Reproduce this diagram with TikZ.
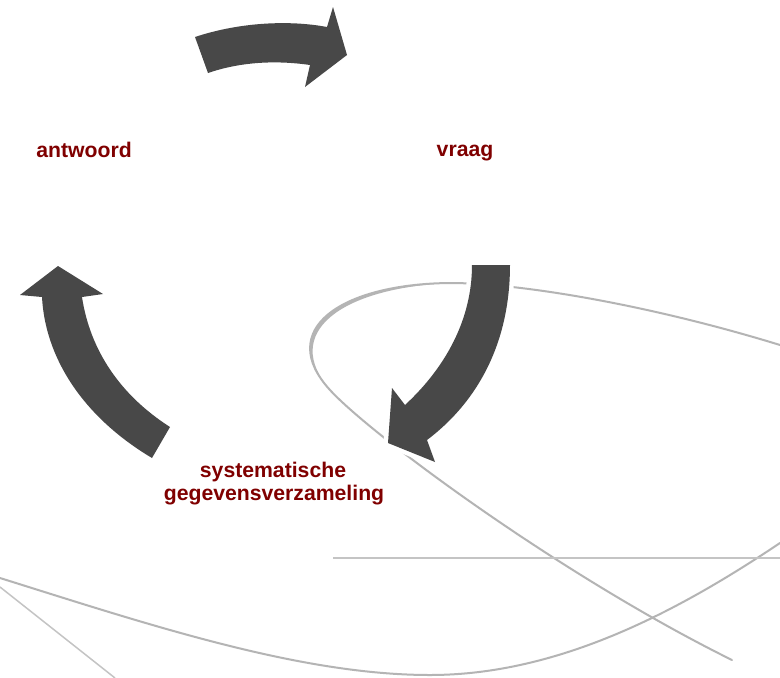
\documentclass[tikz,border=0pt]{standalone}
\usepackage{fontspec}
\setmainfont{Liberation Sans}
\definecolor{lbl}{RGB}{128,0,0}
\definecolor{arr}{RGB}{72,72,72}
\definecolor{swirl}{RGB}{180,180,180}
\definecolor{thin}{RGB}{196,196,196}
\begin{document}
\begin{tikzpicture}[x=1pt,y=-1pt,
  lbltext/.style={text=lbl,font=\fontsize{21.2}{23}\selectfont\bfseries,inner sep=0pt,anchor=base,align=center},
  blockarrow/.style={fill=arr,preaction={draw=white,line width=9pt,line join=round}},
  swirlline/.style={draw=swirl,line width=2pt,line cap=round},
  thinline/.style={draw=thin,line width=1.5pt}]
\useasboundingbox (0,0) rectangle (780,678);
\fill[white] (0,0) rectangle (780,678);
% background swirls
\draw[swirlline] (780,345) .. controls (650,305) and (520,283) .. (450,283)
  .. controls (340,284) and (275,330) .. (330,390)
  .. controls (370,434) and (560,575) .. (732,660);
\fill[swirl] (450,283) .. controls (340,284) and (275,330) .. (330,390)
  .. controls (281,333) and (340,288) .. (450,283) -- cycle;
\draw[swirlline] (0,578) .. controls (150,625) and (300,675) .. (430,675)
  .. controls (560,675) and (680,610) .. (780,543);
\draw[thinline] (0,587) -- (115,678);
\draw[thinline] (333,558) -- (780,558);
% block arrows
\path[blockarrow] (195,37) .. controls (240,22) and (290,20) .. (327,27) -- (333,7) -- (347,55) -- (305,87) -- (310,65) .. controls (275,60) and (240,62) .. (208,73) -- cycle;
\path[blockarrow] (472,265) -- (510,265) .. controls (510,340) and (480,400) .. (427,440) -- (435,462) -- (388,443) -- (392,388) -- (405,405) .. controls (445,368) and (472,320) .. (472,265) -- cycle;
\path[blockarrow] (170,427) -- (152,458) .. controls (80,415) and (45,355) .. (42,297) -- (20,295) -- (58,266) -- (103,294) -- (82,297) .. controls (90,350) and (120,395) .. (170,427) -- cycle;
% labels
\node[lbltext] (antwoord) at (84,157) {antwoord};
\node[lbltext] (vraag) at (465,156) {vraag};
\node[lbltext] (sys) at (273,477) {systematische};
\node[lbltext] (geg) at (274,500) {gegevensverzameling};
\end{tikzpicture}
\end{document}
